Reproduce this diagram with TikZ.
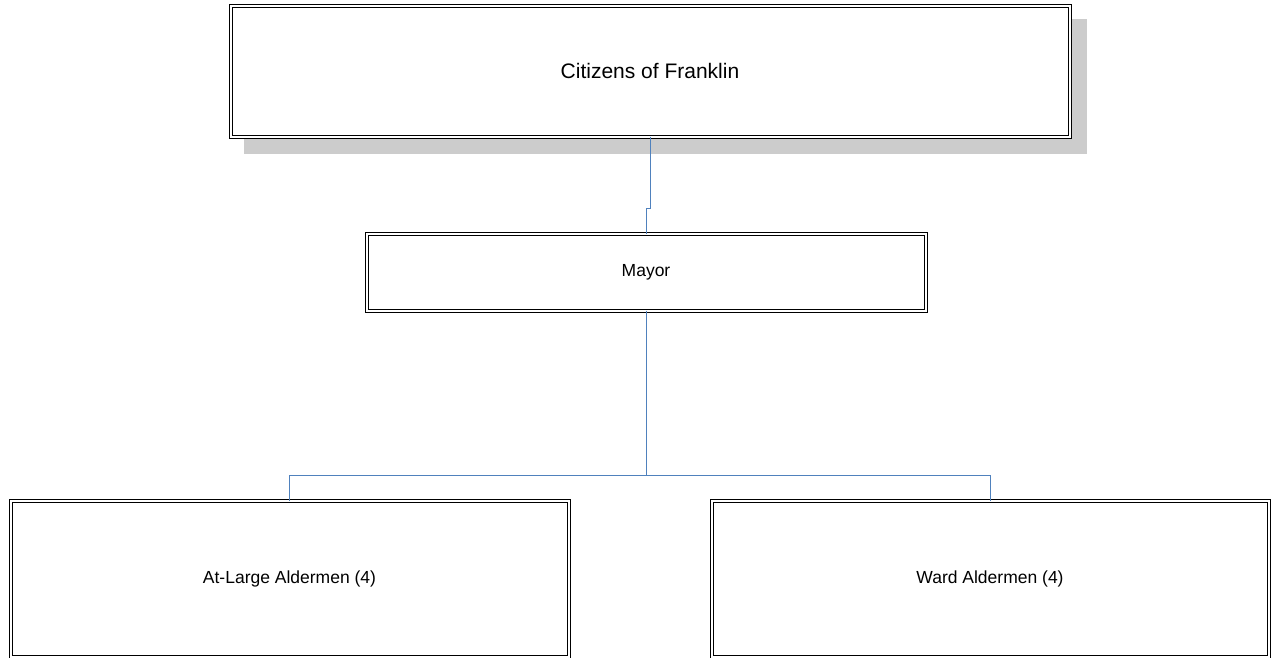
\documentclass[tikz,border=0pt]{standalone}
\usepackage{fontspec}
\setmainfont{Liberation Sans}
\begin{document}
\begin{tikzpicture}[x=1pt,y=-1pt,
  orgbox/.style={draw=black, double=white, line width=1pt, double distance=2pt,
    fill=white, inner sep=0pt, outer sep=0pt, align=center},
  conn/.style={draw=linkblue, line width=1pt}]
\definecolor{linkblue}{HTML}{4F81BD}
\definecolor{shadowgray}{HTML}{CCCCCC}
\useasboundingbox (0,0) rectangle (1273,657);

% drop shadow behind the top box
\fill[shadowgray] (244,19) rectangle (1087,154);

% organisation boxes
\node[orgbox, minimum width=839pt, minimum height=131pt, font=\fontsize{21}{24}\selectfont]
  (cit) at (650,71) {Citizens of Franklin};
\node[orgbox, minimum width=559pt, minimum height=77pt, font=\fontsize{17.5}{20}\selectfont]
  (mayor) at (646,272) {Mayor};
\node[orgbox, minimum width=558pt, minimum height=156pt, font=\fontsize{17.5}{20}\selectfont]
  (atl) at (289.5,579) {At-Large Aldermen (4)};
\node[orgbox, minimum width=557pt, minimum height=156pt, font=\fontsize{17.5}{20}\selectfont]
  (ward) at (990,579) {Ward Aldermen (4)};

% connectors
\coordinate (jog) at (650,208);
\coordinate (bus) at (646,475);
\draw[conn] (cit.south) -- (jog) -| (mayor.north);
\draw[conn] (mayor.south) -- (bus);
\draw[conn] (atl.north) |- (bus) -| (ward.north);
\end{tikzpicture}
\end{document}
